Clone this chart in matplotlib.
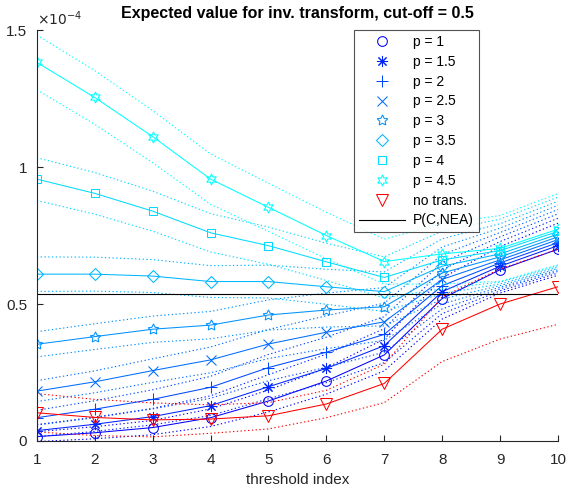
import matplotlib

matplotlib.use("Agg")
import matplotlib.pyplot as plt
from matplotlib.lines import Line2D
from matplotlib.ticker import FuncFormatter

plt.rcParams["font.family"] = ["Liberation Sans", "DejaVu Sans"]

# values in units of 1e-4
threshold_idx = [1, 2, 3, 4, 5, 6, 7, 8, 9, 10]
p_labels = ["p = 1", "p = 1.5", "p = 2", "p = 2.5", "p = 3", "p = 3.5", "p = 4", "p = 4.5"]

ev_p1 = [0.016, 0.030, 0.049, 0.085, 0.146, 0.219, 0.314, 0.520, 0.625, 0.700]
ev_p15 = [0.038, 0.061, 0.089, 0.129, 0.198, 0.265, 0.348, 0.545, 0.638, 0.713]
ev_p2 = [0.085, 0.116, 0.152, 0.196, 0.268, 0.324, 0.389, 0.567, 0.650, 0.724]
ev_p25 = [0.182, 0.216, 0.257, 0.296, 0.354, 0.397, 0.435, 0.590, 0.661, 0.735]
ev_p3 = [0.353, 0.381, 0.408, 0.423, 0.460, 0.478, 0.490, 0.613, 0.672, 0.745]
ev_p35 = [0.609, 0.609, 0.602, 0.582, 0.582, 0.563, 0.545, 0.638, 0.683, 0.755]
ev_p4 = [0.956, 0.904, 0.839, 0.760, 0.713, 0.654, 0.597, 0.661, 0.695, 0.765]
ev_p45 = [1.382, 1.254, 1.111, 0.956, 0.853, 0.750, 0.655, 0.683, 0.703, 0.773]
ev_notrans = [0.103, 0.086, 0.077, 0.080, 0.092, 0.135, 0.210, 0.408, 0.500, 0.563]

# half-width of the dotted bands
sd_p1 = [0.018, 0.022, 0.026, 0.032, 0.040, 0.048, 0.058, 0.075, 0.085, 0.095]
sd_p15 = [0.022, 0.026, 0.030, 0.036, 0.044, 0.052, 0.062, 0.080, 0.090, 0.100]
sd_p2 = [0.027, 0.031, 0.035, 0.040, 0.048, 0.055, 0.065, 0.085, 0.095, 0.105]
sd_p25 = [0.038, 0.040, 0.043, 0.047, 0.053, 0.060, 0.068, 0.090, 0.100, 0.110]
sd_p3 = [0.046, 0.047, 0.048, 0.050, 0.055, 0.062, 0.070, 0.095, 0.105, 0.115]
sd_p35 = [0.063, 0.062, 0.060, 0.058, 0.060, 0.064, 0.072, 0.100, 0.110, 0.120]
sd_p4 = [0.078, 0.076, 0.073, 0.070, 0.068, 0.068, 0.075, 0.105, 0.115, 0.125]
sd_p45 = [0.100, 0.098, 0.095, 0.092, 0.088, 0.085, 0.082, 0.110, 0.120, 0.130]
sd_notrans = [0.070, 0.066, 0.062, 0.052, 0.048, 0.050, 0.070, 0.118, 0.128, 0.137]

p_cnea = 0.536

ev_series = [ev_p1, ev_p15, ev_p2, ev_p25, ev_p3, ev_p35, ev_p4, ev_p45]
sd_series = [sd_p1, sd_p15, sd_p2, sd_p25, sd_p3, sd_p35, sd_p4, sd_p45]

# MATLAB-like markers
markers = ["o", (8, 2, 0), "+", "x", (5, 1, 0), "D", "s", (6, 1, 0)]
msizes = [7, 8, 8, 7, 8, 6, 6, 8]
dots = (0, (1.2, 2.2))

fig = plt.figure(figsize=(5.67, 4.93), dpi=100)
ax = fig.add_axes([0.065, 0.1055, 0.919, 0.8335])

for k, (ev, sd) in enumerate(zip(ev_series, sd_series)):
    col = (0.0, k / 7.0, 1.0)
    hi = [m + s for m, s in zip(ev, sd)]
    lo = [m - s for m, s in zip(ev, sd)]
    ax.plot(threshold_idx, hi, ls=dots, color=col, lw=0.8)
    ax.plot(threshold_idx, lo, ls=dots, color=col, lw=0.8)
    ax.plot(threshold_idx, ev, "-", color=col, lw=0.75, marker=markers[k],
            ms=msizes[k], mfc="none", mew=0.75)

hi = [m + s for m, s in zip(ev_notrans, sd_notrans)]
lo = [m - s for m, s in zip(ev_notrans, sd_notrans)]
ax.plot(threshold_idx, hi, ls=dots, color="red", lw=0.8)
ax.plot(threshold_idx, lo, ls=dots, color="red", lw=0.8)
ax.plot(threshold_idx, ev_notrans, "-", color="red", lw=0.75, marker="v",
        ms=8, mfc="none", mew=0.75)

ax.plot([threshold_idx[0], threshold_idx[-1]], [p_cnea, p_cnea], "-", color="black", lw=0.8)

ax.set_xlim(1, 10)
ax.set_ylim(0, 1.5)
ax.set_xticks(threshold_idx)
ax.set_yticks([0, 0.5, 1, 1.5])
ax.yaxis.set_major_formatter(FuncFormatter(lambda v, pos: "%g" % v))
ax.tick_params(direction="in", length=4, width=0.8, colors="#262626", labelsize=11)
ax.tick_params(axis="x", pad=9)
ax.tick_params(axis="y", pad=7)
for sp in ["top", "right"]:
    ax.spines[sp].set_visible(False)
for sp in ["left", "bottom"]:
    ax.spines[sp].set_color("#262626")
    ax.spines[sp].set_linewidth(0.8)

ax.text(0.0, 1.005, r"$\times10^{-4}$", transform=ax.transAxes, fontsize=10,
        color="#262626", ha="left", va="bottom")
ax.set_title("Expected value for inv. transform, cut-off = 0.5", fontsize=11.5,
             fontweight="bold", pad=9)
ax.set_xlabel("threshold index", fontsize=11, color="#262626", labelpad=4)

handles = []
for k in range(8):
    handles.append(Line2D([], [], ls="none", marker=markers[k], ms=msizes[k],
                          mfc="none", mew=0.75, color=(0.0, k / 7.0, 1.0)))
handles.append(Line2D([], [], ls="none", marker="v", ms=8, mfc="none", mew=0.75, color="red"))
handles.append(Line2D([], [], ls="-", color="black", lw=0.8))
leg = ax.legend(handles, p_labels + ["no trans.", "P(C,NEA)"], loc="upper right",
                bbox_to_anchor=(0.848, 1.0), borderaxespad=0.0, fontsize=10,
                frameon=True, fancybox=False, handlelength=3.3, labelspacing=0.42,
                borderpad=0.35, handletextpad=0.6)
leg.get_frame().set_edgecolor("#262626")
leg.get_frame().set_linewidth(0.8)

fig.savefig("out.png", dpi=100)
plt.close(fig)
